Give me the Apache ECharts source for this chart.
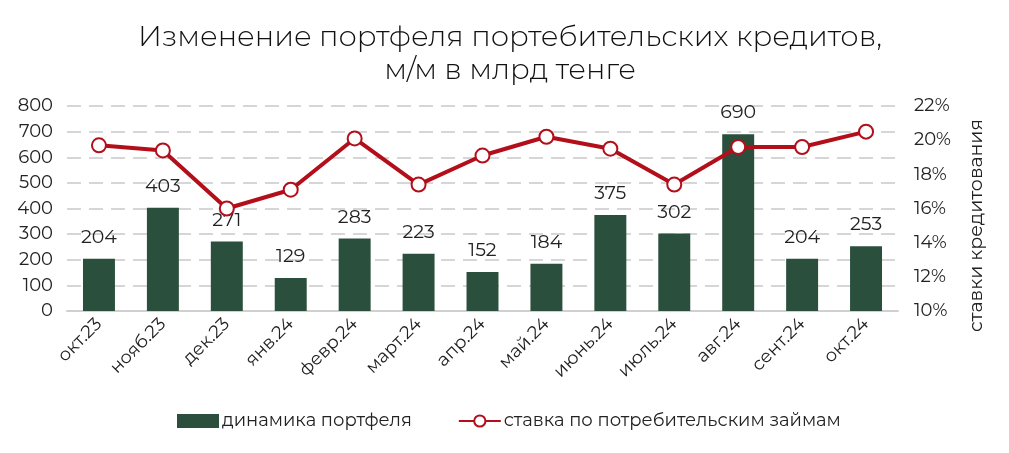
<!DOCTYPE html>
<html><head><meta charset="utf-8">
<script src="https://cdn.jsdelivr.net/npm/echarts@6/dist/echarts.min.js"></script>
<style>html,body{margin:0;padding:0;background:#fff}#c{width:1009px;height:453px}</style>
</head><body><div id="c"></div>
<script>
const categories = ['окт.23','нояб.23','дек.23','янв.24','февр.24','март.24','апр.24','май.24','июнь.24','июль.24','авг.24','сент.24','окт.24'];
const portfolio = [204,403,271,129,283,223,152,184,375,302,690,204,253];
const rate = [19.7,19.4,16.0,17.1,20.1,17.4,19.1,20.2,19.5,17.4,19.6,19.6,20.5];
const leftTicks = [0,800,100];
const rightTicks = [10,22,2];
const FONT = 'Montserrat, "Noto Sans", sans-serif';
const chart = echarts.init(document.getElementById('c'));
chart.setOption({
  animation:false,
  textStyle:{fontFamily:FONT},
  title:{text:'Изменение портфеля портебительских кредитов,\nм/м в млрд тенге',left:505,textAlign:'center',top:16,
    textStyle:{fontSize:29,fontWeight:300,color:'#111',lineHeight:33,fontFamily:FONT}},
  grid:{left:67,right:111,top:106,bottom:142},
  legend:{bottom:18,left:172,itemGap:46,itemWidth:42,itemHeight:14,
    textStyle:{fontSize:18,color:'#222',fontFamily:FONT,padding:[0,0,0,-2]},
    data:[{name:'динамика портфеля',icon:'rect'},{name:'ставка по потребительским займам'}]},
  xAxis:{type:'category',data:categories,
    axisLine:{lineStyle:{color:'#d0d0d0',width:2}},axisTick:{show:false},
    axisLabel:{rotate:45,fontSize:18,color:'#222',interval:0,margin:10}},
  yAxis:[
    {type:'value',min:leftTicks[0],max:leftTicks[1],interval:leftTicks[2],
     axisLabel:{fontSize:18,color:'#222',margin:14},
     splitLine:{lineStyle:{color:'#d6d6d6',type:[14,8],width:2}},
     axisLine:{show:false},axisTick:{show:false}},
    {type:'value',min:rightTicks[0],max:rightTicks[1],interval:rightTicks[2],alignTicks:false,
     name:'ставки кредитования',nameLocation:'middle',nameRotate:90,nameGap:69,
     nameTextStyle:{fontSize:19,color:'#222',fontFamily:FONT,padding:[0,34,0,0]},
     axisLabel:{fontSize:18,color:'#222',margin:16,formatter:v=>v+'%'},
     splitLine:{show:false},axisLine:{show:false},axisTick:{show:false}}
  ],
  series:[
    {name:'динамика портфеля',type:'bar',data:portfolio,barWidth:'50%',
     itemStyle:{color:'#2a4f3c'},
     label:{show:true,position:'top',distance:12,fontSize:19,color:'#222',fontFamily:FONT}},
    {name:'ставка по потребительским займам',type:'line',yAxisIndex:1,data:rate,
     symbol:'circle',symbolSize:14,
     lineStyle:{color:'#b30f1a',width:4},
     itemStyle:{color:'#fff',borderColor:'#b30f1a',borderWidth:2}}
  ]
});
</script></body></html>
